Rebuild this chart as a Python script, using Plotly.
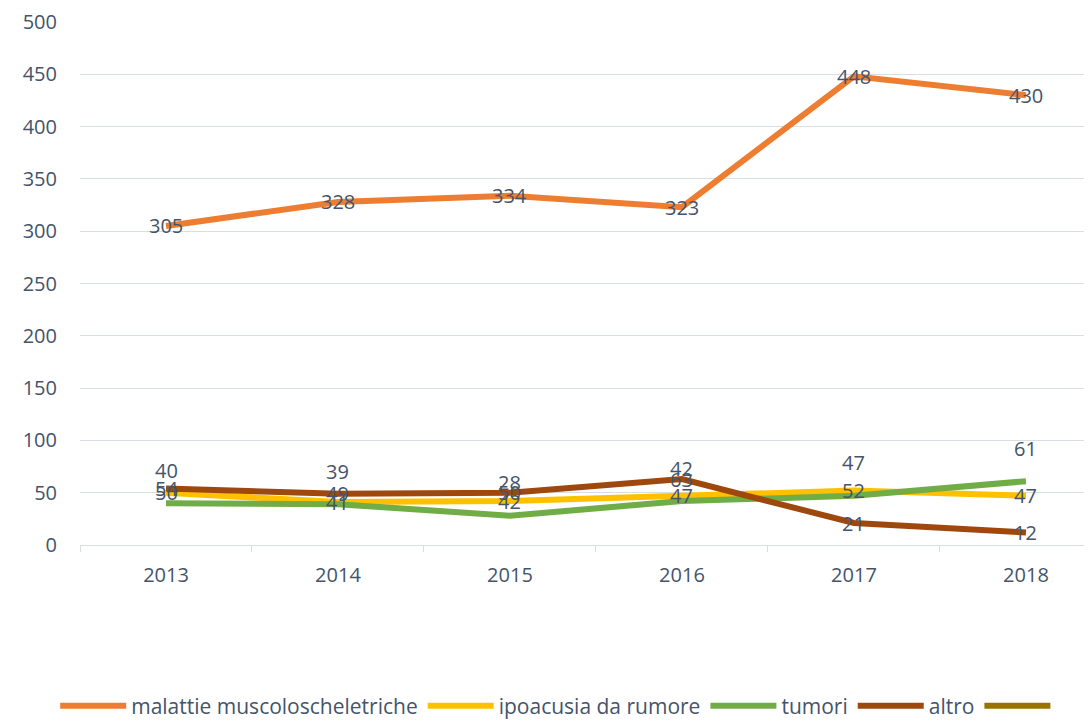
import plotly.graph_objects as go

years = ["2013", "2014", "2015", "2016", "2017", "2018"]
malattie = [305, 328, 334, 323, 448, 430]
ipoacusia = [50, 41, 42, 47, 52, 47]
tumori = [40, 39, 28, 42, 47, 61]
altro = [54, 49, 50, 63, 21, 12]
extra = [None] * 6

series = [
    ("malattie muscoloscheletriche", malattie, "#ED7D31", 0),
    ("ipoacusia da rumore", ipoacusia, "#FFC000", 0),
    ("tumori", tumori, "#70AD47", 33),
    ("altro", altro, "#9E480E", 0),
]

FONT = "'Open Sans', Lato, sans-serif"
TXT = "#44546A"
GRID = "#D9DDE4"

fig = go.Figure()
for name, vals, col, _ in series:
    fig.add_trace(go.Scatter(x=years, y=vals, mode="lines", name=name,
                             line=dict(color=col, width=6)))
fig.add_trace(go.Scatter(x=years, y=extra, mode="lines", name=" ",
                         line=dict(color="#997300", width=6)))

annotations = []
for name, vals, col, shift in series:
    for i, v in enumerate(vals):
        annotations.append(dict(x=i, y=v, xref="x", yref="y", text=str(v),
                                showarrow=False, yshift=shift,
                                xanchor="center", yanchor="middle",
                                font=dict(family=FONT, size=20, color=TXT)))

fig.update_layout(
    width=1084, height=714,
    margin=dict(l=72, r=0, t=14, b=177, autoexpand=False),
    paper_bgcolor="white", plot_bgcolor="white",
    font=dict(family=FONT, size=20, color=TXT),
    annotations=annotations,
    showlegend=True,
    legend=dict(orientation="h", x=0.475, xanchor="center", y=-0.308, yanchor="middle",
                font=dict(family=FONT, size=21, color=TXT), itemwidth=66),
    xaxis=dict(type="category", range=[-0.5, 5.384], showgrid=False,
               showline=True, linecolor=GRID, linewidth=1,
               ticks="outside", tickson="boundaries", ticklen=6, tickcolor=GRID,
               ticklabelstandoff=12, automargin=False,
               tickfont=dict(family=FONT, size=20, color=TXT)),
    yaxis=dict(range=[0, 500], dtick=50, showgrid=True, gridcolor=GRID,
               gridwidth=1, zeroline=False, showline=False, ticks="",
               ticklabelstandoff=22, automargin=False,
               tickfont=dict(family=FONT, size=20, color=TXT)),
)

fig.write_html("out.html")
